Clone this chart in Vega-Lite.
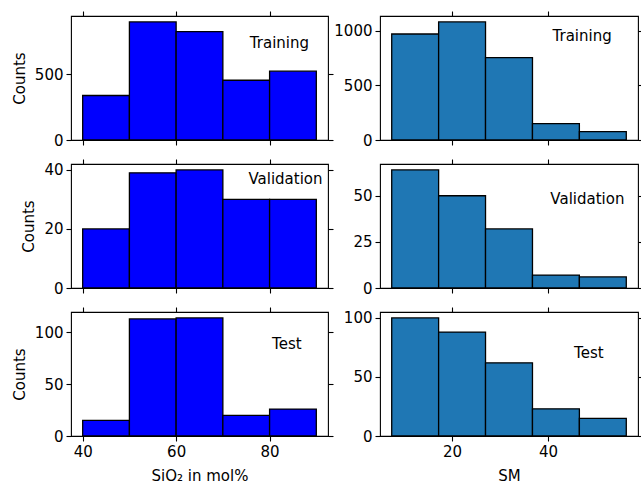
{
  "$schema": "https://vega.github.io/schema/vega-lite/v6.json",
  "background": "white",
  "padding": {"left": 11, "top": 9, "right": 2, "bottom": 2},
  "bounds": "flush",
  "columns": 2,
  "spacing": {"row": 24, "column": 52},
  "datasets": {
    "hist": [
      {"var": "SiO2", "set": "Training", "x0": 40, "x1": 50, "count": 338},
      {"var": "SiO2", "set": "Training", "x0": 50, "x1": 60, "count": 897},
      {"var": "SiO2", "set": "Training", "x0": 60, "x1": 70, "count": 823},
      {"var": "SiO2", "set": "Training", "x0": 70, "x1": 80, "count": 454},
      {"var": "SiO2", "set": "Training", "x0": 80, "x1": 90, "count": 523},
      {"var": "SiO2", "set": "Validation", "x0": 40, "x1": 50, "count": 20},
      {"var": "SiO2", "set": "Validation", "x0": 50, "x1": 60, "count": 39},
      {"var": "SiO2", "set": "Validation", "x0": 60, "x1": 70, "count": 40},
      {"var": "SiO2", "set": "Validation", "x0": 70, "x1": 80, "count": 30},
      {"var": "SiO2", "set": "Validation", "x0": 80, "x1": 90, "count": 30},
      {"var": "SiO2", "set": "Test", "x0": 40, "x1": 50, "count": 15},
      {"var": "SiO2", "set": "Test", "x0": 50, "x1": 60, "count": 113},
      {"var": "SiO2", "set": "Test", "x0": 60, "x1": 70, "count": 114},
      {"var": "SiO2", "set": "Test", "x0": 70, "x1": 80, "count": 20},
      {"var": "SiO2", "set": "Test", "x0": 80, "x1": 90, "count": 26},
      {"var": "SM", "set": "Training", "x0": 7.44, "x1": 17.21, "count": 972},
      {"var": "SM", "set": "Training", "x0": 17.21, "x1": 26.98, "count": 1083},
      {"var": "SM", "set": "Training", "x0": 26.98, "x1": 36.76, "count": 756},
      {"var": "SM", "set": "Training", "x0": 36.76, "x1": 46.53, "count": 150},
      {"var": "SM", "set": "Training", "x0": 46.53, "x1": 56.3, "count": 77},
      {"var": "SM", "set": "Validation", "x0": 7.44, "x1": 17.21, "count": 64},
      {"var": "SM", "set": "Validation", "x0": 17.21, "x1": 26.98, "count": 50},
      {"var": "SM", "set": "Validation", "x0": 26.98, "x1": 36.76, "count": 32},
      {"var": "SM", "set": "Validation", "x0": 36.76, "x1": 46.53, "count": 7},
      {"var": "SM", "set": "Validation", "x0": 46.53, "x1": 56.3, "count": 6},
      {"var": "SM", "set": "Test", "x0": 7.44, "x1": 17.21, "count": 100},
      {"var": "SM", "set": "Test", "x0": 17.21, "x1": 26.98, "count": 88},
      {"var": "SM", "set": "Test", "x0": 26.98, "x1": 36.76, "count": 62},
      {"var": "SM", "set": "Test", "x0": 36.76, "x1": 46.53, "count": 23},
      {"var": "SM", "set": "Test", "x0": 46.53, "x1": 56.3, "count": 15}
    ],
    "labels": [
      {"var": "SiO2", "set": "Training", "x": 82.1, "y": 735, "label": "Training"},
      {"var": "SM", "set": "Training", "x": 47.1, "y": 951, "label": "Training"},
      {"var": "SiO2", "set": "Validation", "x": 83.4, "y": 36.8, "label": "Validation"},
      {"var": "SM", "set": "Validation", "x": 48.2, "y": 48, "label": "Validation"},
      {"var": "SiO2", "set": "Test", "x": 83.7, "y": 89, "label": "Test"},
      {"var": "SM", "set": "Test", "x": 48.5, "y": 70, "label": "Test"}
    ]
  },
  "concat": [
    {
      "width": 257, "height": 124,
      "layer": [
        {"data": {"name": "hist"}, "transform": [{"filter": "datum.var=='SiO2' && datum.set=='Training'"}],
         "mark": {"type": "bar", "color": "#0000ff", "stroke": "black", "strokeWidth": 1.3},
         "encoding": {
           "x": {"field": "x0", "type": "quantitative", "scale": {"domain": [37.5, 92.5], "nice": false, "zero": false}, "axis": {"values": [40, 60, 80], "labels": false, "title": null}},
           "x2": {"field": "x1"},
           "y": {"field": "count", "type": "quantitative", "scale": {"domain": [0, 942], "nice": false}, "axis": {"values": [0, 500], "title": "Counts"}},
           "y2": {"datum": 0}}},
        {"data": {"name": "labels"}, "transform": [{"filter": "datum.var=='SiO2' && datum.set=='Training'"}],
         "mark": {"type": "text"},
         "encoding": {
           "x": {"field": "x", "type": "quantitative", "axis": {"orient": "top", "values": [40, 60, 80], "labels": false, "title": null}},
           "y": {"field": "y", "type": "quantitative", "axis": {"orient": "right", "values": [0, 500], "labels": false, "title": null}},
           "text": {"field": "label"}}}
      ],
      "resolve": {"axis": {"x": "independent", "y": "independent"}}
    },
    {
      "width": 258, "height": 124,
      "layer": [
        {"data": {"name": "hist"}, "transform": [{"filter": "datum.var=='SM' && datum.set=='Training'"}],
         "mark": {"type": "bar", "color": "#1f77b4", "stroke": "black", "strokeWidth": 1.3},
         "encoding": {
           "x": {"field": "x0", "type": "quantitative", "scale": {"domain": [5.0, 58.74], "nice": false, "zero": false}, "axis": {"values": [20, 40], "labels": false, "title": null}},
           "x2": {"field": "x1"},
           "y": {"field": "count", "type": "quantitative", "scale": {"domain": [0, 1137], "nice": false}, "axis": {"values": [0, 500, 1000], "format": "d", "title": null}},
           "y2": {"datum": 0}}},
        {"data": {"name": "labels"}, "transform": [{"filter": "datum.var=='SM' && datum.set=='Training'"}],
         "mark": {"type": "text"},
         "encoding": {
           "x": {"field": "x", "type": "quantitative", "axis": {"orient": "top", "values": [20, 40], "labels": false, "title": null}},
           "y": {"field": "y", "type": "quantitative", "axis": {"orient": "right", "values": [0, 500, 1000], "labels": false, "title": null}},
           "text": {"field": "label"}}}
      ],
      "resolve": {"axis": {"x": "independent", "y": "independent"}}
    },
    {
      "width": 257, "height": 124,
      "layer": [
        {"data": {"name": "hist"}, "transform": [{"filter": "datum.var=='SiO2' && datum.set=='Validation'"}],
         "mark": {"type": "bar", "color": "#0000ff", "stroke": "black", "strokeWidth": 1.3},
         "encoding": {
           "x": {"field": "x0", "type": "quantitative", "scale": {"domain": [37.5, 92.5], "nice": false, "zero": false}, "axis": {"values": [40, 60, 80], "labels": false, "title": null}},
           "x2": {"field": "x1"},
           "y": {"field": "count", "type": "quantitative", "scale": {"domain": [0, 42], "nice": false}, "axis": {"values": [0, 20, 40], "title": "Counts"}},
           "y2": {"datum": 0}}},
        {"data": {"name": "labels"}, "transform": [{"filter": "datum.var=='SiO2' && datum.set=='Validation'"}],
         "mark": {"type": "text"},
         "encoding": {
           "x": {"field": "x", "type": "quantitative", "axis": {"orient": "top", "values": [40, 60, 80], "labels": false, "title": null}},
           "y": {"field": "y", "type": "quantitative", "axis": {"orient": "right", "values": [0, 20, 40], "labels": false, "title": null}},
           "text": {"field": "label"}}}
      ],
      "resolve": {"axis": {"x": "independent", "y": "independent"}}
    },
    {
      "width": 258, "height": 124,
      "layer": [
        {"data": {"name": "hist"}, "transform": [{"filter": "datum.var=='SM' && datum.set=='Validation'"}],
         "mark": {"type": "bar", "color": "#1f77b4", "stroke": "black", "strokeWidth": 1.3},
         "encoding": {
           "x": {"field": "x0", "type": "quantitative", "scale": {"domain": [5.0, 58.74], "nice": false, "zero": false}, "axis": {"values": [20, 40], "labels": false, "title": null}},
           "x2": {"field": "x1"},
           "y": {"field": "count", "type": "quantitative", "scale": {"domain": [0, 67.2], "nice": false}, "axis": {"values": [0, 25, 50], "title": null}},
           "y2": {"datum": 0}}},
        {"data": {"name": "labels"}, "transform": [{"filter": "datum.var=='SM' && datum.set=='Validation'"}],
         "mark": {"type": "text"},
         "encoding": {
           "x": {"field": "x", "type": "quantitative", "axis": {"orient": "top", "values": [20, 40], "labels": false, "title": null}},
           "y": {"field": "y", "type": "quantitative", "axis": {"orient": "right", "values": [0, 25, 50], "labels": false, "title": null}},
           "text": {"field": "label"}}}
      ],
      "resolve": {"axis": {"x": "independent", "y": "independent"}}
    },
    {
      "width": 257, "height": 124,
      "layer": [
        {"data": {"name": "hist"}, "transform": [{"filter": "datum.var=='SiO2' && datum.set=='Test'"}],
         "mark": {"type": "bar", "color": "#0000ff", "stroke": "black", "strokeWidth": 1.3},
         "encoding": {
           "x": {"field": "x0", "type": "quantitative", "scale": {"domain": [37.5, 92.5], "nice": false, "zero": false}, "axis": {"values": [40, 60, 80], "title": "SiO₂ in mol%", "titlePadding": 9}},
           "x2": {"field": "x1"},
           "y": {"field": "count", "type": "quantitative", "scale": {"domain": [0, 119.7], "nice": false}, "axis": {"values": [0, 50, 100], "title": "Counts"}},
           "y2": {"datum": 0}}},
        {"data": {"name": "labels"}, "transform": [{"filter": "datum.var=='SiO2' && datum.set=='Test'"}],
         "mark": {"type": "text"},
         "encoding": {
           "x": {"field": "x", "type": "quantitative", "axis": {"orient": "top", "values": [40, 60, 80], "labels": false, "title": null}},
           "y": {"field": "y", "type": "quantitative", "axis": {"orient": "right", "values": [0, 50, 100], "labels": false, "title": null}},
           "text": {"field": "label"}}}
      ],
      "resolve": {"axis": {"x": "independent", "y": "independent"}}
    },
    {
      "width": 258, "height": 124,
      "layer": [
        {"data": {"name": "hist"}, "transform": [{"filter": "datum.var=='SM' && datum.set=='Test'"}],
         "mark": {"type": "bar", "color": "#1f77b4", "stroke": "black", "strokeWidth": 1.3},
         "encoding": {
           "x": {"field": "x0", "type": "quantitative", "scale": {"domain": [5.0, 58.74], "nice": false, "zero": false}, "axis": {"values": [20, 40], "title": "SM", "titlePadding": 9}},
           "x2": {"field": "x1"},
           "y": {"field": "count", "type": "quantitative", "scale": {"domain": [0, 105], "nice": false}, "axis": {"values": [0, 50, 100], "title": null}},
           "y2": {"datum": 0}}},
        {"data": {"name": "labels"}, "transform": [{"filter": "datum.var=='SM' && datum.set=='Test'"}],
         "mark": {"type": "text"},
         "encoding": {
           "x": {"field": "x", "type": "quantitative", "axis": {"orient": "top", "values": [20, 40], "labels": false, "title": null}},
           "y": {"field": "y", "type": "quantitative", "axis": {"orient": "right", "values": [0, 50, 100], "labels": false, "title": null}},
           "text": {"field": "label"}}}
      ],
      "resolve": {"axis": {"x": "independent", "y": "independent"}}
    }
  ],
  "config": {
    "axis": {"labelFont": "DejaVu Sans", "labelFontSize": 15, "titleFont": "DejaVu Sans", "titleFontSize": 15, "titleFontWeight": "normal", "labelColor": "black", "titleColor": "black", "tickColor": "black", "tickWidth": 1.1, "tickSize": 5, "labelPadding": 3, "domain": false, "grid": false, "titlePadding": 7},
    "view": {"stroke": "black", "strokeWidth": 1.1},
    "text": {"font": "DejaVu Sans", "fontSize": 15, "color": "black", "baseline": "middle", "align": "center"}
  }
}
